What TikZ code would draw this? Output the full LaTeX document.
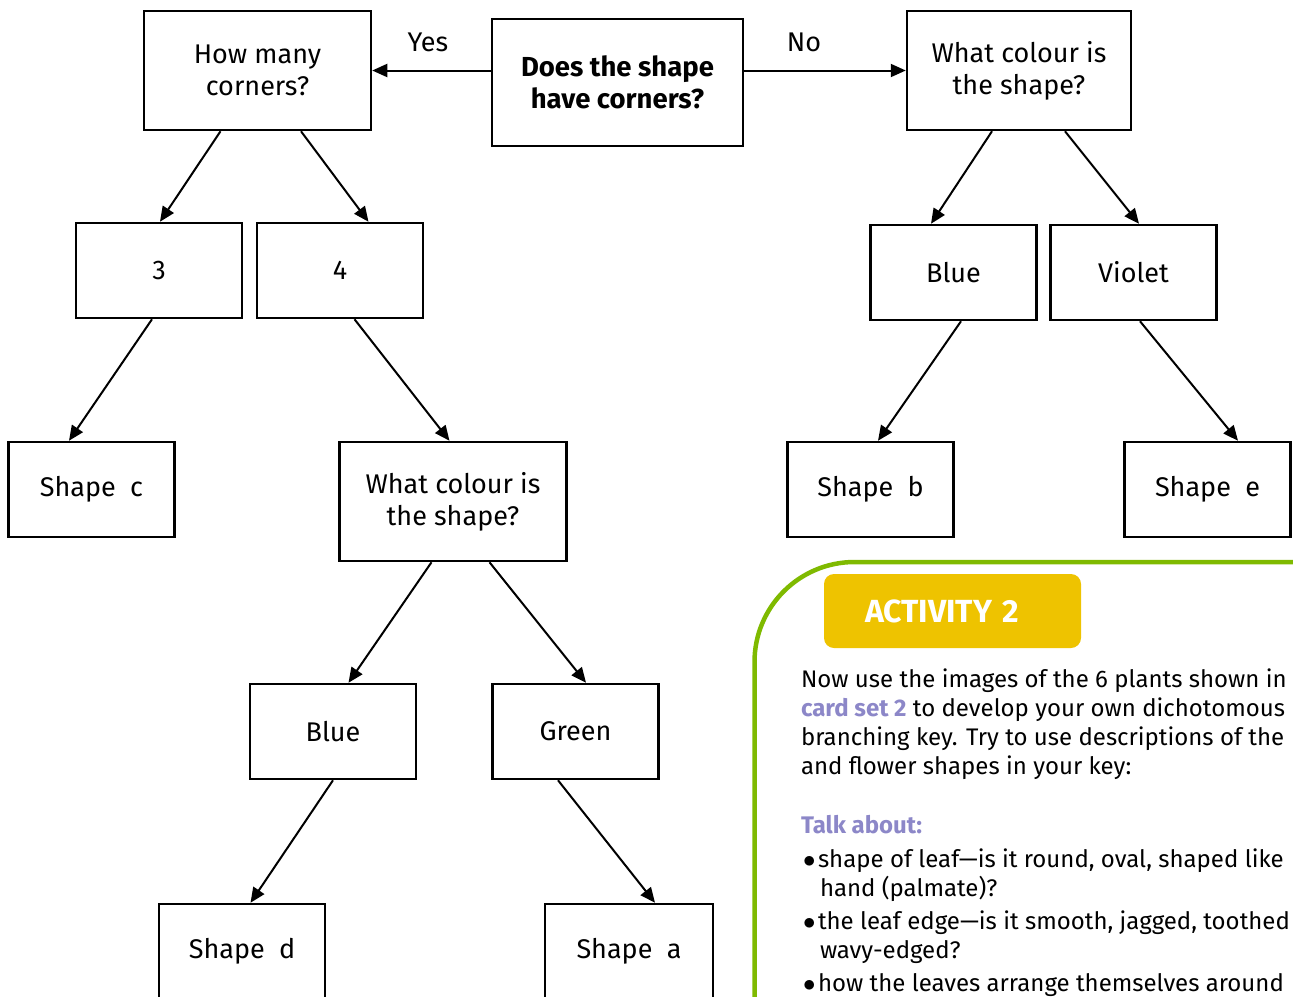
\documentclass[tikz,border=0pt]{standalone}
\usepackage{fontspec}
\setmainfont{Fira Sans}
\usetikzlibrary{positioning}
\usetikzlibrary{arrows.meta}
\usepackage{xcolor}
\definecolor{framegreen}{HTML}{7FBA00}
\definecolor{actyellow}{HTML}{EEC300}
\definecolor{talkpurple}{HTML}{8C87C8}
\tikzstyle{Q} = [rectangle,draw=black,line width=2.5pt,fill=white,align=center,inner sep=0pt,minimum width=227pt,minimum height=119pt]
\tikzstyle{A} = [Q,minimum width=166pt,minimum height=95pt]
\tikzstyle{T} = [anchor=base west,align=left,inner sep=0pt,font=\fontsize{24}{29}\selectfont]
\tikzset{>={Triangle[length=15pt,width=13pt]}}
\newcommand{\bul}{\makebox[15pt][l]{$\bullet$}}

\begin{document}
\begin{tikzpicture}[x=1pt,y=1pt,line width=2pt,font=\fontsize{27}{32}\selectfont]
  \useasboundingbox (0,0) rectangle (1293,-996);
  \clip (0,0) rectangle (1293,-996);

  \node [Q,minimum width=251pt,minimum height=127pt,font=\fontsize{27.5}{32}\selectfont\bfseries] (n1) at (617.5,-82.5) {Does the shape\\have corners?};
  \node [Q,left=118.5pt of n1,yshift=12pt] (n2) {How many\\corners?};
  \node [Q,minimum width=224pt,right=161.5pt of n1,yshift=12pt] (n3) {What colour is\\the shape?};

  \draw [->] (n1.west |- n2.east) -- (n2.east) node [pos=0.53,above=14pt] {Yes};
  \draw [->] (n1.east |- n3.west) -- (n3.west) node [pos=0.37,above=14pt] {No};

  \node [A,below=90.5pt of n2,xshift=-98.5pt] (n4) {3};
  \node [A,right=12.5pt of n4] (n5) {4};
  \node [A,below=92.5pt of n3,xshift=-65.5pt] (n6) {Blue};
  \node [A,right=11.5pt of n6] (n7) {Violet};

  \draw [->] ([xshift=-37pt]n2.south) -- ([xshift=1pt]n4.north);
  \draw [->] ([xshift=43.5pt]n2.south) -- ([xshift=28.5pt]n5.north);
  \draw [->] ([xshift=-27pt]n3.south) -- ([xshift=-22.5pt]n6.north);
  \draw [->] ([xshift=46pt]n3.south) -- ([xshift=5.5pt]n7.north);

  \node [A,below=121.5pt of n4,xshift=-67.5pt] (n8) {Shape~~c};
  \node [Q,below=121.5pt of n5,xshift=113pt] (n9) {What colour is\\the shape?};
  \node [A,below=119.5pt of n6,xshift=-83pt] (n10) {Shape~~b};
  \node [A,below=119.5pt of n7,xshift=74pt] (n11) {Shape~~e};

  \draw [->] ([xshift=-7pt]n4.south) -- ([xshift=-22.5pt]n8.north);
  \draw [->] ([xshift=14.5pt]n5.south) -- ([xshift=-3.5pt]n9.north);
  \draw [->] ([xshift=7.5pt]n6.south) -- ([xshift=7.5pt]n10.north);
  \draw [->] ([xshift=6.5pt]n7.south) -- ([xshift=30.5pt]n11.north);

  \node [A,below=120.5pt of n9,xshift=-120pt] (n12) {Blue};
  \node [A,right=74pt of n12] (n13) {Green};
  \draw [->] ([xshift=-21.5pt]n9.south) -- ([xshift=15.5pt]n12.north);
  \draw [->] ([xshift=36.5pt]n9.south) -- ([xshift=10.5pt]n13.north);

  \node [A,below=122.5pt of n12,xshift=-91pt] (n14) {Shape~~d};
  \node [A,minimum width=168pt,below=122.5pt of n13,xshift=53.5pt] (n15) {Shape~~a};
  \draw [->] (n12.south) -- ([xshift=8.5pt]n14.north);
  \draw [->] ([xshift=-17.5pt]n13.south) -- ([xshift=26pt]n15.north);

  % activity panel
  \draw [framegreen,line width=4.5pt,rounded corners=100pt] (754.5,-1010) -- (754.5,-562) -- (1320,-562);
  \node [fill=actyellow,rounded corners=10pt,minimum height=74pt,text width=175pt,align=left,inner xsep=41pt,text=white,font=\fontsize{32}{32}\selectfont\bfseries] (act) at (952.5,-611) {ACTIVITY 2};

  \node [T] (para) at (800,-774) {Now use the images of the 6 plants shown in\\
    \textcolor{talkpurple}{\bfseries card set 2} to develop your own dichotomous\\
    branching key. Try to use descriptions of the\\
    and flower shapes in your key:};
  \node [T,text=talkpurple,font=\fontsize{24}{29}\selectfont\bfseries] (talk) at (800,-833) {Talk about:};
  \node [T] (b1) at (802,-896) {\bul shape of leaf---is it round, oval, shaped like\\\hspace*{17pt}hand (palmate)?};
  \node [T] (b2) at (802,-958) {\bul the leaf edge---is it smooth, jagged, toothed\\\hspace*{17pt}wavy-edged?};
  \node [T] (b3) at (802,-991) {\bul how the leaves arrange themselves around};
\end{tikzpicture}
\end{document}
